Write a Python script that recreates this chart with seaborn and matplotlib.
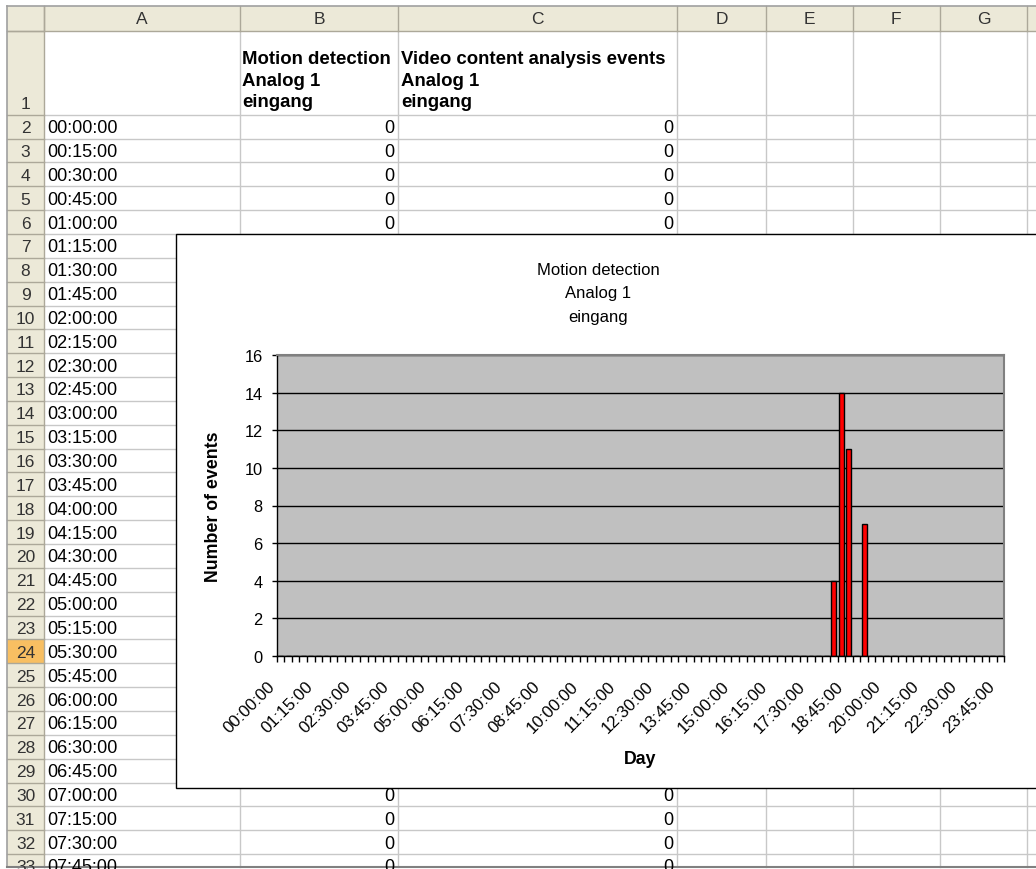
import numpy as np
import matplotlib
matplotlib.use("Agg")
import matplotlib.pyplot as plt
from matplotlib.patches import Rectangle
from matplotlib.transforms import ScaledTranslation
import seaborn as sns

# ---------------- data ----------------
time_labels = [f"{h:02d}:{m:02d}:00" for h in range(24) for m in (0, 15, 30, 45)]

# events per 15-minute slot, 4 values per hour, 6 hours per line
motion_events = [
    0, 0, 0, 0,  0, 0, 0, 0,  0, 0, 0, 0,  0, 0, 0, 0,  0, 0, 0, 0,  0, 0, 0, 0,   # 00h-05h
    0, 0, 0, 0,  0, 0, 0, 0,  0, 0, 0, 0,  0, 0, 0, 0,  0, 0, 0, 0,  0, 0, 0, 0,   # 06h-11h
    0, 0, 0, 0,  0, 0, 0, 0,  0, 0, 0, 0,  0, 0, 0, 0,  0, 0, 0, 0,  0, 0, 0, 0,   # 12h-17h
    0, 4, 14, 11, 0, 7, 0, 0, 0, 0, 0, 0,  0, 0, 0, 0,  0, 0, 0, 0,  0, 0, 0, 0,   # 18h-23h
]
video_events = [
    0, 0, 0, 0,  0, 0, 0, 0,  0, 0, 0, 0,  0, 0, 0, 0,  0, 0, 0, 0,  0, 0, 0, 0,
    0, 0, 0, 0,  0, 0, 0, 0,  0, 0, 0, 0,  0, 0, 0, 0,  0, 0, 0, 0,  0, 0, 0, 0,
    0, 0, 0, 0,  0, 0, 0, 0,  0, 0, 0, 0,  0, 0, 0, 0,  0, 0, 0, 0,  0, 0, 0, 0,
    0, 0, 0, 0,  0, 0, 0, 0,  0, 0, 0, 0,  0, 0, 0, 0,  0, 0, 0, 0,  0, 0, 0, 0,
]
column_letters = ["A", "B", "C", "D", "E", "F", "G"]
motion_header = ["Motion detection", "Analog 1", "eingang"]
video_header = ["Video content analysis events", "Analog 1", "eingang"]
chart_title = ["Motion detection", "Analog 1", "eingang"]
y_label = "Number of events"
x_label = "Day"
y_ticks = [0, 2, 4, 6, 8, 10, 12, 14, 16]
label_step = 5
selected_row = 24

# ---------------- figure ----------------
W, H = 1036, 870
DPI = 100
FONT = "Liberation Sans"
plt.rcParams["font.family"] = [FONT, "DejaVu Sans"]

fig = plt.figure(figsize=(W / DPI, H / DPI), dpi=DPI, facecolor="white")
bg = fig.add_axes([0, 0, 1, 1])
bg.set_xlim(0, W)
bg.set_ylim(H, 0)
bg.axis("off")
bg.set_zorder(0)

HDR = "#ECE9D8"
HDR_LINE = "#ACA899"
GRID = "#C8C8C8"
SEL = "#F8BF62"

left = 6.7
top = 6.7
hdr_bottom = 32.3
rowhdr_right = 44.3
col_edges = [44.3, 240.0, 398.3, 677.3, 765.7, 852.7, 940.0, 1027.0]
row1_bottom = 115.7
row_h = 23.85
n_rows = 32  # rows 2..33
bottom = 867.5

# chart object geometry
ch_left, ch_top, ch_bottom = 175.7, 234.7, 789.3

# header backgrounds
bg.add_patch(Rectangle((left, top), W - left, hdr_bottom - top, facecolor=HDR, edgecolor="none", zorder=1))
bg.add_patch(Rectangle((left, top), rowhdr_right - left, bottom - top, facecolor=HDR, edgecolor="none", zorder=1))

# selected row header
sel_top = row1_bottom + (selected_row - 2) * row_h
bg.add_patch(Rectangle((left, sel_top), rowhdr_right - left, row_h, facecolor=SEL, edgecolor="none", zorder=1.5))

# cell gridlines
row_edges = [row1_bottom + i * row_h for i in range(n_rows + 1)]
for y in row_edges:
    bg.plot([rowhdr_right, W], [y, y], color=GRID, lw=1.0, zorder=2)
for x in col_edges[1:]:
    bg.plot([x, x], [hdr_bottom, bottom], color=GRID, lw=1.0, zorder=2)

# header lines
for x in col_edges:
    bg.plot([x, x], [top, hdr_bottom], color=HDR_LINE, lw=1.0, zorder=3)
for y in [hdr_bottom] + row_edges:
    bg.plot([left, rowhdr_right], [y, y], color=HDR_LINE, lw=1.0, zorder=3)
bg.plot([left, W], [hdr_bottom, hdr_bottom], color=HDR_LINE, lw=1.0, zorder=3)
bg.plot([rowhdr_right, rowhdr_right], [top, bottom], color=HDR_LINE, lw=1.0, zorder=3)

# outer frame
bg.plot([left, W], [top, top], color="#A0A0A0", lw=1.2, zorder=4)
bg.plot([left, left], [top, bottom], color="#A0A0A0", lw=1.2, zorder=4)
bg.plot([left, W], [bottom, bottom], color="#808080", lw=1.5, zorder=4)

CELL_FS = 13.0
BOLD_FS = 13.4
HDR_FS = 12.5
# column letters
for i, letter in enumerate(column_letters):
    cx = (col_edges[i] + col_edges[i + 1]) / 2
    bg.text(cx, (top + hdr_bottom) / 2 + 0.5, letter, ha="center", va="center", fontsize=HDR_FS, color="#333333", zorder=5)

# row 1
bg.text((left + rowhdr_right) / 2, row1_bottom - 4, "1", ha="center", va="bottom", fontsize=HDR_FS, color="#333333", zorder=5)
for j, line in enumerate(motion_header):
    bg.text(col_edges[1] + 2.5, 64 + j * 21.7, line, ha="left", va="baseline", fontsize=BOLD_FS, fontweight="bold", zorder=5)
for j, line in enumerate(video_header):
    bg.text(col_edges[2] + 2.5, 64 + j * 21.7, line, ha="left", va="baseline", fontsize=BOLD_FS, fontweight="bold", zorder=5)

# rows 2..33
for i in range(n_rows):
    r_top = row1_bottom + i * row_h
    yc = r_top + 0.5 * row_h + 1
    bg.text((left + rowhdr_right) / 2, yc, str(i + 2), ha="center", va="center", fontsize=HDR_FS, color="#333333", zorder=5)
    bg.text(col_edges[0] + 2.5, yc, time_labels[i], ha="left", va="center", fontsize=CELL_FS, zorder=5)
    hidden = (r_top >= ch_top - 1) and (r_top + row_h <= ch_bottom)
    if not hidden:
        bg.text(col_edges[2] - 4, yc, str(motion_events[i]), ha="right", va="center", fontsize=CELL_FS, zorder=5)
        bg.text(col_edges[3] - 4, yc, str(video_events[i]), ha="right", va="center", fontsize=CELL_FS, zorder=5)

# chart object
bg.add_patch(Rectangle((ch_left, ch_top), W + 20 - ch_left, ch_bottom - ch_top,
                       facecolor="white", edgecolor="black", lw=1.0, zorder=10))

# chart texts
title_cx = 598
for j, line in enumerate(chart_title):
    bg.text(title_cx, 275 + j * 23.3, line, ha="center", va="baseline", fontsize=12.0, zorder=11)

pa_left, pa_right, pa_top, pa_bottom = 276.7, 1004.3, 356.0, 657.0
bg.text(213, (pa_top + pa_bottom) / 2, y_label, rotation=90, ha="center", va="center",
        fontsize=12.8, fontweight="bold", zorder=11)
bg.text((pa_left + pa_right) / 2, 764, x_label, ha="center", va="baseline",
        fontsize=12.8, fontweight="bold", zorder=11)

# plot area
ax = fig.add_axes([pa_left / W, 1 - pa_bottom / H, (pa_right - pa_left) / W, (pa_bottom - pa_top) / H])
ax.set_zorder(2)
ax.set_facecolor("#C0C0C0")

sns.barplot(x=time_labels, y=motion_events, ax=ax, color="#FF0000", saturation=1,
            edgecolor="black", linewidth=1.0, width=0.65, errorbar=None)

ax.set_xlim(-0.5, len(time_labels) - 0.5)
ax.set_ylim(y_ticks[0], y_ticks[-1])
ax.set_yticks(y_ticks)
ax.set_yticklabels([str(v) for v in y_ticks], fontsize=11.8)
major_pos = list(range(0, len(time_labels), label_step))
ax.set_xticks(major_pos)
ax.set_xticklabels([time_labels[k] for k in major_pos], fontsize=12.2,
                   rotation=45, ha="right", va="center", rotation_mode="anchor")
ax.set_xticks(np.arange(-0.5, len(time_labels), 1.0), minor=True)
ax.tick_params(axis="x", which="major", length=0, pad=20)
ax.tick_params(axis="x", which="minor", length=4.3, width=1.0, color="black", direction="out")
ax.tick_params(axis="y", length=3.6, width=1.0, color="black", pad=6.5, direction="out")
shift = ScaledTranslation(-8 / DPI, 0, fig.dpi_scale_trans)
for lab in ax.get_xticklabels():
    lab.set_transform(lab.get_transform() + shift)

ax.set_xlabel("")
ax.set_ylabel("")
ax.set_axisbelow(True)
ax.yaxis.grid(True, color="black", lw=1.0)
ax.xaxis.grid(False)
for side in ["left", "bottom"]:
    ax.spines[side].set_color("black")
    ax.spines[side].set_linewidth(1.0)
for side in ["top", "right"]:
    ax.spines[side].set_color("#808080")
    ax.spines[side].set_linewidth(1.5)

fig.savefig("out.png", dpi=DPI, facecolor="white")
